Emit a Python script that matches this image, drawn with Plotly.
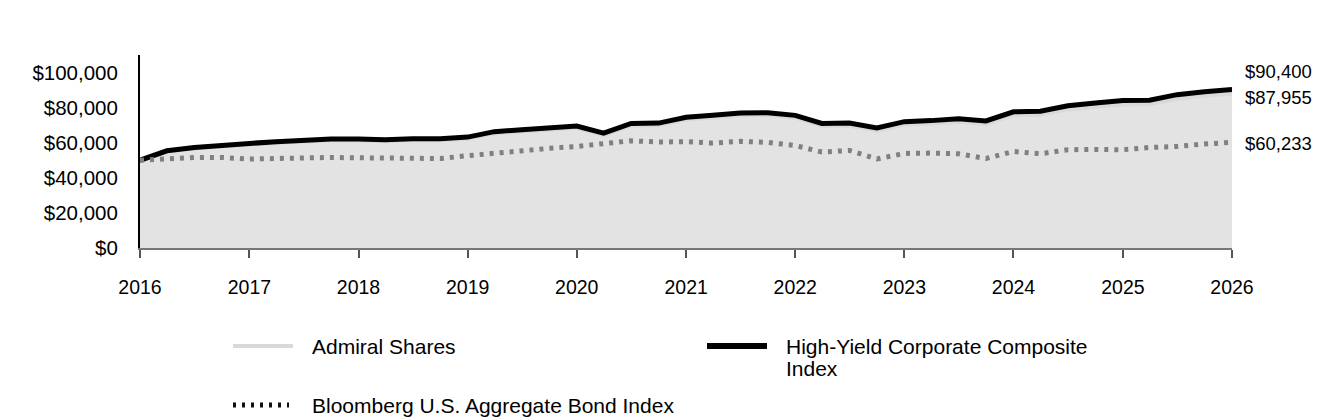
#!/usr/bin/python3
# -*- coding: utf-8 -*-
"""growth of $50,000: admiral shares vs. high-yield index vs. bloomberg aggregate"""
import plotly.graph_objects as go

# quarter ends, fiscal years ending January
quarters = ["2016-01-31", "2016-04-30", "2016-07-31", "2016-10-31",
            "2017-01-31", "2017-04-30", "2017-07-31", "2017-10-31",
            "2018-01-31", "2018-04-30", "2018-07-31", "2018-10-31",
            "2019-01-31", "2019-04-30", "2019-07-31", "2019-10-31",
            "2020-01-31", "2020-04-30", "2020-07-31", "2020-10-31",
            "2021-01-31", "2021-04-30", "2021-07-31", "2021-10-31",
            "2022-01-31", "2022-04-30", "2022-07-31", "2022-10-31",
            "2023-01-31", "2023-04-30", "2023-07-31", "2023-10-31",
            "2024-01-31", "2024-04-30", "2024-07-31", "2024-10-31",
            "2025-01-31", "2025-04-30", "2025-07-31", "2025-10-31",
            "2026-01-31"]

admiral = [50000, 54900, 56800, 58100, 59000, 59900, 60800, 61400,
           61300, 60900, 61500, 61400, 62300, 65300, 66400, 67300,
           68400, 64300, 69800, 70000, 73200, 74200, 75600, 75600,
           74300, 69500, 69700, 66900, 70400, 71000, 72000, 70700,
           75700, 75900, 79000, 80500, 81800, 82000, 85100, 86800,
           87955]

high_yield = [50000, 55400, 57300, 58700, 59600, 60600, 61500, 62100,
              62100, 61700, 62300, 62300, 63200, 66300, 67400, 68400,
              69500, 65500, 71000, 71200, 74500, 75600, 77000, 77100,
              75600, 71000, 71200, 68400, 72000, 72600, 73700, 72400,
              77600, 77900, 81100, 82700, 84000, 84200, 87400, 89100,
              90400]

bloomberg = [50000, 50700, 51600, 51600, 50700, 51000, 51600, 51600,
             51400, 51200, 51200, 51000, 52600, 54100, 55400, 56800,
             57900, 59400, 61100, 60400, 60600, 59800, 60800, 60200,
             58400, 54700, 55600, 50700, 53900, 54100, 53700, 51000,
             55000, 53700, 56000, 56200, 56000, 57300, 57900, 59300,
             60233]

year_ticks = ["2016-01-31", "2017-01-31", "2018-01-31", "2019-01-31",
              "2020-01-31", "2021-01-31", "2022-01-31", "2023-01-31",
              "2024-01-31", "2025-01-31", "2026-01-31"]
year_labels = ["2016", "2017", "2018", "2019", "2020", "2021",
               "2022", "2023", "2024", "2025", "2026"]

dollar_ticks = [0, 20000, 40000, 60000, 80000, 100000]
dollar_labels = ["$0", "$20,000", "$40,000", "$60,000", "$80,000", "$100,000"]

series_names = ["Admiral Shares", "High-Yield Corporate Composite Index",
                "Bloomberg U.S. Aggregate Bond Index"]
end_labels = ["$90,400", "$87,955", "$60,233"]

FONT = "Liberation Sans, Arial, sans-serif"

# plot area in page pixels (page body adds 8px, margins are trimmed for it)
PX_L, PX_R, PX_T, PX_B = 140, 1232, 55, 248


def px_x(x):
    return (x - PX_L) / (PX_R - PX_L)


def px_y(y):
    return (PX_B - y) / (PX_B - PX_T)


fig = go.Figure()

# admiral shares carries the grey area underneath everything
fig.add_trace(go.Scatter(
    x=quarters, y=admiral, name=series_names[0], mode="lines",
    line=dict(color="#d9d9d9", width=4),
    fill="tozeroy", fillcolor="#e3e3e3",
    hoverinfo="name+y",
))
fig.add_trace(go.Scatter(
    x=quarters, y=high_yield, name=series_names[1],
    mode="lines", line=dict(color="#000000", width=5),
    hoverinfo="name+y",
))
fig.add_trace(go.Scatter(
    x=quarters, y=bloomberg, name=series_names[2],
    mode="lines", line=dict(color="#808080", width=5, dash="4px,6px"),
    hoverinfo="name+y",
))

# end values written right of the plot
ends = [(high_yield[-1], 18), (admiral[-1], -4), (bloomberg[-1], -1)]
for txt, (val, shift) in zip(end_labels, ends):
    fig.add_annotation(x=1.0, xref="paper", y=val, yref="y", yshift=shift,
                       text=txt, showarrow=False, xanchor="left", xshift=11,
                       font=dict(size=18.5, color="#000000", family=FONT))

# hand-made legend: the sample of the two-line entry sits on its first line
legend_items = [
    # sample x0, x1, y, line style, text lines
    (233, 293, 346, dict(color="#d9d9d9", width=4), [series_names[0]]),
    (707, 767, 346, dict(color="#000000", width=6),
     ["High-Yield Corporate Composite", "Index"]),
    (233, 289, 405, dict(color="#111111", width=5, dash="3px,6px"), [series_names[2]]),
]
for x0, x1, y, style, lines in legend_items:
    fig.add_shape(type="line", xref="paper", yref="paper",
                  x0=px_x(x0), x1=px_x(x1), y0=px_y(y), y1=px_y(y), line=style)
    for k, txt in enumerate(lines):
        fig.add_annotation(x=px_x(x0 + 77), y=px_y(y + 22 * k),
                           xref="paper", yref="paper",
                           text=txt, showarrow=False, xanchor="left", yanchor="middle",
                           font=dict(size=21, color="#000000", family=FONT))

fig.update_layout(
    width=1332, height=420,
    margin=dict(l=132, r=108, t=47, b=180, autoexpand=False),
    paper_bgcolor="white", plot_bgcolor="white",
    font=dict(family=FONT, color="#000000"),
    showlegend=False,
)

fig.update_xaxes(
    type="date", range=["2016-01-31", "2026-01-31"],
    tickvals=year_ticks, ticktext=year_labels,
    tickfont=dict(size=19.5), ticks="outside", ticklen=8, tickwidth=2,
    tickcolor="#555555", ticklabelstandoff=13,
    showline=True, linecolor="#777777", linewidth=2,
    showgrid=False, zeroline=False,
)
fig.update_yaxes(
    range=[0, 110000], tickvals=dollar_ticks, ticktext=dollar_labels,
    tickfont=dict(size=20.5), ticklabelstandoff=16,
    showline=True, linecolor="#000000", linewidth=2,
    showgrid=False, zeroline=False,
)

fig.write_html("out.html")
